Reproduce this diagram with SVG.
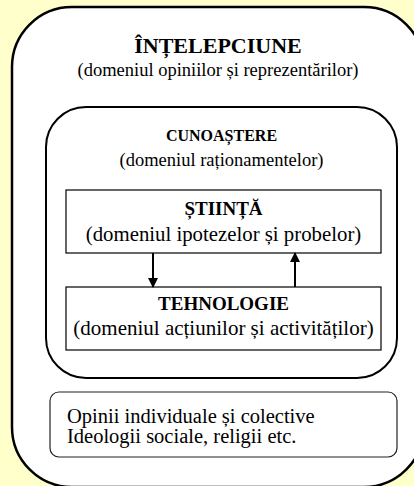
<svg xmlns="http://www.w3.org/2000/svg" width="414" height="486" viewBox="0 0 414 486">
<defs>
<style>
text{font-family:"Liberation Serif","Times New Roman",serif;fill:#000}
.b{font-weight:bold}
.c{text-anchor:middle}
.box{fill:#fff;stroke:#000;stroke-width:1.2}
.conn{stroke:#000;stroke-width:2;fill:none}
</style>
<marker id="ah" markerWidth="10" markerHeight="10" viewBox="0 0 10 10" refX="9" refY="5" orient="auto" markerUnits="userSpaceOnUse">
<path d="M0,0 L10,5 L0,10 Z" fill="#000"/>
</marker>
</defs>
<rect x="0" y="0" width="414" height="486" fill="#ffffcc"/>
<g id="intelepciune">
<rect x="12" y="7" width="412" height="480" rx="60" ry="60" fill="#fff" stroke="#000" stroke-width="2.5"/>
<text class="b c" x="218" y="53" font-size="22">ÎNȚELEPCIUNE</text>
<text class="c" x="218" y="76" font-size="18.5">(domeniul opiniilor și reprezentărilor)</text>
</g>
<g id="cunoastere">
<rect x="46" y="107" width="351" height="271" rx="40" ry="40" fill="#fff" stroke="#000" stroke-width="2"/>
<text class="b c" x="221.5" y="141" font-size="16">CUNOAȘTERE</text>
<text class="c" x="221.5" y="166" font-size="18.5">(domeniul raționamentelor)</text>
</g>
<g id="stiinta">
<rect class="box" x="66" y="190" width="315" height="63"/>
<text class="b c" x="223.5" y="215" font-size="19">ȘTIINȚĂ</text>
<text class="c" x="223.5" y="241" font-size="20.8">(domeniul ipotezelor și probelor)</text>
</g>
<g id="tehnologie">
<rect class="box" x="66" y="287" width="315" height="63"/>
<text class="b c" x="223.5" y="310" font-size="19">TEHNOLOGIE</text>
<text class="c" x="223.5" y="335" font-size="21">(domeniul acțiunilor și activităților)</text>
</g>
<g id="opinii">
<rect x="50" y="392" width="347" height="65" rx="9" ry="9" fill="#fff" stroke="#222" stroke-width="1.2"/>
<text x="67" y="423" font-size="20.5">Opinii individuale și colective</text>
<text x="67" y="443" font-size="20.5">Ideologii sociale, religii etc.</text>
</g>
<g id="connectors">
<line class="conn" x1="153" y1="253" x2="153" y2="287" marker-end="url(#ah)"/>
<line class="conn" x1="295" y1="287" x2="295" y2="253" marker-end="url(#ah)"/>
</g>
</svg>
